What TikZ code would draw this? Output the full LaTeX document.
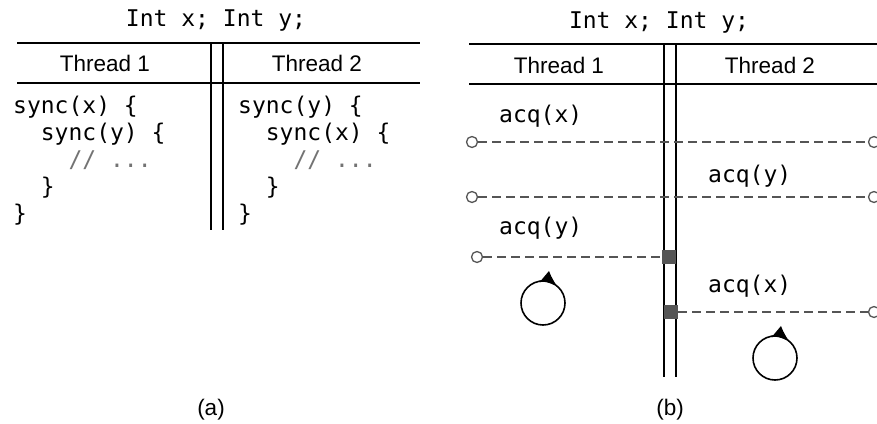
\documentclass[tikz,border=0pt]{standalone}
\usepackage{fontspec}
\setmainfont{Liberation Sans}
\setmonofont{DejaVu Sans Mono}
\usetikzlibrary{arrows.meta}

\definecolor{lockgray}{RGB}{85,85,85}
\definecolor{commentgray}{RGB}{115,115,115}

\tikzset{
  code/.style={anchor=base west, inner sep=0pt, font=\ttfamily\fontsize{23}{27}\selectfont},
  head/.style={anchor=base, inner sep=0pt, font=\fontsize{22.5}{27}\selectfont},
  rule/.style={line width=1.8pt},
  wait/.style={draw=lockgray, line width=1.6pt, dash pattern=on 9pt off 5pt},
  endpt/.style={circle, draw=lockgray, fill=white, line width=1.3pt, minimum size=11pt, inner sep=0pt},
  held/.style={fill=lockgray, minimum size=14pt, inner sep=0pt},
  spinloop/.style={circle, draw, line width=1.6pt, minimum size=44pt, inner sep=0pt, outer sep=0pt},
  spin/.style={line width=1.6pt, -{Latex[length=16pt,width=13pt]}}
}

\begin{document}
\begin{tikzpicture}[x=1pt,y=-1pt]
    \useasboundingbox (0,0) rectangle (877,423);
    % (a) source of the two threads
    \node[code,anchor=base] (titleA) at (216,26) {Int x; Int y;};
    \draw[rule] (17,43) -- (420,43);
    \draw[rule] (17,83) -- (420,83);
    \draw[rule] (211,43) -- (211,230);
    \draw[rule] (223,43) -- (223,230);
    \node[head] (threadA1) at (105,71) {Thread 1};
    \node[head] (threadA2) at (317,71) {Thread 2};
    \node[code] (srcA1) at (13,113) {sync(x) \{};
    \node[code] (srcA2) at (13,140) {\phantom{ss}sync(y) \{};
    \node[code] (srcA3) at (13,167) {\phantom{ssss}\textcolor{commentgray}{// ...}};
    \node[code] (srcA4) at (13,194) {\phantom{ss}\}};
    \node[code] (srcA5) at (13,221) {\}};
    \node[code] (srcB1) at (238,113) {sync(y) \{};
    \node[code] (srcB2) at (238,140) {\phantom{ss}sync(x) \{};
    \node[code] (srcB3) at (238,167) {\phantom{ssss}\textcolor{commentgray}{// ...}};
    \node[code] (srcB4) at (238,194) {\phantom{ss}\}};
    \node[code] (srcB5) at (238,221) {\}};
    \node[head] (capA) at (211,415) {(a)};

    % (b) the deadlock
    \node[code,anchor=base] (titleB) at (659,28) {Int x; Int y;};
    \draw[rule] (469,44) -- (877,44);
    \draw[rule] (469,84) -- (877,84);
    \draw[rule] (664,44) -- (664,377);
    \draw[rule] (676,44) -- (676,377);
    \node[head] (threadB1) at (559,73) {Thread 1};
    \node[head] (threadB2) at (770,73) {Thread 2};

    \node[code] (acqX1) at (499,122) {acq(x)};
    \node[endpt] (left1) at (472,142) {};
    \node[endpt] (right1) at (874,142) {};
    \draw[wait] (left1) -- (right1);

    \node[code] (acqY2) at (708,182) {acq(y)};
    \node[endpt] (left2) at (472,197) {};
    \node[endpt] (right2) at (874,197) {};
    \draw[wait] (left2) -- (right2);

    \node[code] (acqY1) at (499,234) {acq(y)};
    \node[endpt] (left3) at (477,257) {};
    \node[held] (lockY) at (669,257) {};
    \draw[wait] (left3) -- (lockY);

    \node[code] (acqX2) at (708,292) {acq(x)};
    \node[held] (lockX) at (671,312) {};
    \node[endpt] (right4) at (874,312) {};
    \draw[wait] (lockX) -- (right4);

    \node[spinloop] (spinA) at (543,303) {};
    \draw[spin] (spinA.100) arc[start angle=100, end angle=50, radius=22pt];
    \node[spinloop] (spinB) at (775,358) {};
    \draw[spin] (spinB.100) arc[start angle=100, end angle=50, radius=22pt];

    \node[head] (capB) at (670,415) {(b)};
\end{tikzpicture}
\end{document}
